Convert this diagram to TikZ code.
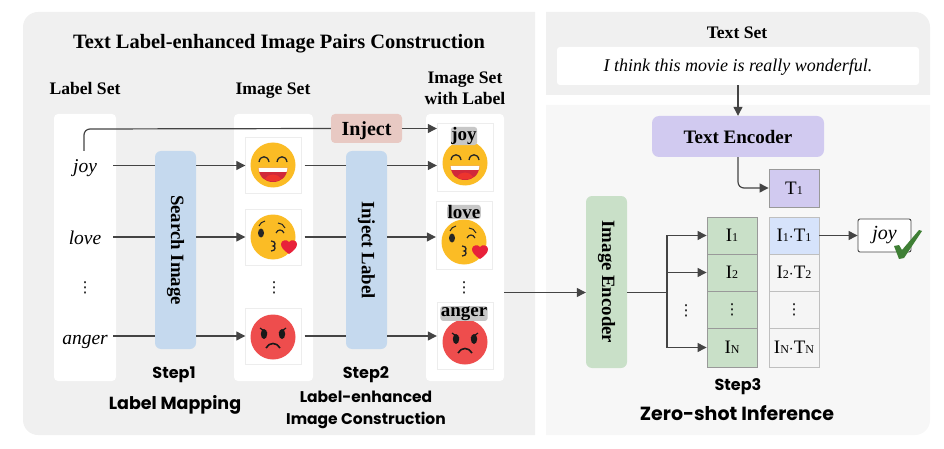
\documentclass[tikz,border=0pt]{standalone}
\usepackage{fontspec}
\setmainfont{Liberation Serif}
\newfontfamily\handfont{Poppins}
\newfontfamily\dotsfont{DejaVu Sans}
\usepackage{xcolor}
\usetikzlibrary{arrows.meta,positioning,calc}
\definecolor{panelgray}{HTML}{F0F0F0}
\definecolor{panellight}{HTML}{F7F7F7}
\definecolor{stepblue}{HTML}{C5D9EE}
\definecolor{injectred}{HTML}{E8C9C3}
\definecolor{encviolet}{HTML}{D1CAF0}
\definecolor{encgreen}{HTML}{C9E0C8}
\definecolor{cellblue}{HTML}{D6E3FB}
\definecolor{linegray}{HTML}{444444}
\definecolor{facegold}{HTML}{FBBC25}
\definecolor{facered}{HTML}{EE4D4D}
\definecolor{mouthred}{HTML}{D1293A}
\definecolor{heartred}{HTML}{E8213A}
\definecolor{checkgreen}{HTML}{3F7F35}
\newcommand{\cellsub}[2]{#1{\fontsize{12}{12}\selectfont #2}}
\tikzset{
  arr/.style={-{Triangle[length=9pt,width=9pt]}, line width=1.2pt, linegray},
  plain/.style={line width=1.2pt, linegray},
  head/.style={font=\bfseries\fontsize{17.6}{21}\selectfont, align=center, text depth=4pt},
  hand/.style={font=\handfont\bfseries\fontsize{#1}{#1}\selectfont, align=center},
  labeltxt/.style={font=\itshape\fontsize{19.5}{21}\selectfont, text height=13pt, text depth=0pt},
  dotsmark/.style={font=\dotsfont\fontsize{15}{17}\selectfont},
  column/.style={fill=white, rounded corners=4pt, minimum width=#1, minimum height=267pt, inner sep=0pt},
  stepbox/.style={fill=stepblue, rounded corners=6pt, minimum width=41pt, minimum height=198pt, inner sep=0pt, font=\bfseries\fontsize{18.8}{20}\selectfont},
  frame/.style={draw=black!7, fill=white, minimum width=56pt, minimum height=#1, inner sep=0pt},
  tag/.style={fill=black!22, rounded corners=3pt, inner sep=0.5pt, font=\bfseries\fontsize{19}{15}\selectfont},
  icell/.style={draw=black!40, fill=encgreen, line width=0.9pt, minimum width=50pt, minimum height=#1, inner sep=0pt, font=\fontsize{19}{21}\selectfont},
  tcell/.style={draw=black!25, fill=black!4, line width=0.9pt, minimum width=50pt, minimum height=#1, inner sep=0pt, font=\fontsize{19}{21}\selectfont},
  joyface/.pic={
    \fill[facegold] (0,0) circle (22.5pt);
    \draw[line width=1.3pt, black!85] (-14,-3) .. controls (-13,-10) and (-5,-10) .. (-4,-3);
    \draw[line width=1.3pt, black!85] (4,-3) .. controls (5,-10) and (13,-10) .. (14,-3);
    \fill[mouthred] (-14.5,3) .. controls (-14,12) and (-8,17) .. (0,17) .. controls (8,17) and (14,12) .. (14.5,3) -- cycle;
    \fill[heartred!80!orange] (-8,14) .. controls (-5,8) and (5,8) .. (8,14) .. controls (5,17) and (-5,17) .. (-8,14) -- cycle;
    \fill[white] (-14.5,3) -- (14.5,3) .. controls (14.3,5) and (14,6) .. (13.5,7) -- (-13.5,7) .. controls (-14,6) and (-14.3,5) .. (-14.5,3) -- cycle;
  },
  kissface/.pic={
    \fill[facegold] (0,0) circle (22.5pt);
    \fill[black!85] (-12,-4) ellipse (3pt and 4.5pt);
    \draw[line width=1pt, black!85] (-14,-11) .. controls (-13,-14) and (-11,-15) .. (-8,-16);
    \draw[line width=1.2pt, black!85] (3,-4) .. controls (5,-8) and (9,-8) .. (11,-4);
    \draw[line width=1pt, black!85] (5,-14) .. controls (8,-14) and (11,-12) .. (12,-9);
    \draw[line width=1.3pt, black!85] (-2,4) .. controls (3,4) and (3,9) .. (0,9) .. controls (3,9) and (3,14) .. (-2,14);
    \fill[heartred] (16,17) .. controls (10,13) and (8,10) .. (8,7) .. controls (8,3) and (14,2) .. (16,5) .. controls (18,2) and (24,3) .. (24,7) .. controls (24,10) and (22,13) .. (16,17) -- cycle;
  },
  angerface/.pic={
    \fill[facered] (0,0) circle (22.5pt);
    \fill[black!90] (-9,-3) ellipse (3.2pt and 5pt);
    \fill[black!90] (9,-3) ellipse (3.2pt and 5pt);
    \draw[line width=1.2pt, black!90] (-13,-9) -- (-6,-4);
    \draw[line width=1.2pt, black!90] (13,-9) -- (6,-4);
    \draw[line width=1.6pt, black!90] (-7,11) .. controls (-4,5) and (4,5) .. (7,11);
  }
}
\begin{document}
\begin{tikzpicture}[x = 1pt, y = -1pt]
\useasboundingbox (0,0) rectangle (944,449);
% panels
\fill[panelgray] (535,12) [rounded corners=15pt] -- (23,12) -- (23,435) [sharp corners] -- (535,435) -- cycle;
\fill[panelgray] (546,12) [rounded corners=15pt] -- (930,12) [sharp corners] -- (930,95) -- (546,95) -- cycle;
\fill[panellight] (546,105) -- (930,105) [rounded corners=15pt] -- (930,435) [sharp corners] -- (546,435) -- cycle;
\node[font=\bfseries\fontsize{20.4}{22}\selectfont] (maintitle) at (279,44) {Text Label-enhanced Image Pairs Construction};
\node[head] (labelhead) at (85,90.5) {Label Set};
\node[head] (imagehead) at (273,90.5) {Image Set};
\node[head] (taggedhead) at (465,90) {Image Set\\with Label};
% columns
\node[column=62pt] (labelcol) at (85,247.5) {};
\node[column=79pt] (imagecol) at (273.5,247.5) {};
\node[column=78pt] (taggedcol) at (465,247.5) {};
\node[labeltxt] (joy) at (85,166) {joy};
\node[labeltxt] (love) at (85,238) {love};
\node[labeltxt] (anger) at (85,338) {anger};
\node[dotsmark] (labeldots) at (85,288) {⋮};
\node[stepbox] (search) at (175.5,250) {\rotatebox{-90}{Search Image}};
\node[stepbox] (injectlabel) at (366.5,250) {\rotatebox{-90}{Inject Label}};
\node[fill=injectred, rounded corners=4pt, minimum width=71pt, minimum height=29pt, inner sep=0pt, text height=13.5pt, text depth=0pt, font=\bfseries\fontsize{20}{22}\selectfont] (inject) at (366.5,128.5) {Inject};
% source images
\node[frame=56pt] (imgjoy) at (273.5,165.5) {};
\node[frame=56pt] (imglove) at (273.5,237) {};
\node[frame=56pt] (imganger) at (273.5,336) {};
\pic at (273,165) {joyface};
\pic at (273,237) {kissface};
\pic at (273,337) {angerface};
\node[dotsmark] (imagedots) at (274,288) {⋮};
% images with label
\node[frame=68pt] (tagjoy) at (465,157) {};
\node[frame=68pt] (taglove) at (464,235) {};
\node[frame=67pt] (taganger) at (465,335.5) {};
\pic at (465,163) {joyface};
\pic at (464,242) {kissface};
\pic at (465,342) {angerface};
\node[tag] (wordjoy) at (464,136) {joy};
\node[tag] (wordlove) at (464,212) {love};
\node[tag] (wordanger) at (464,313.5) {anger};
\node[dotsmark] (taggeddots) at (464,288) {⋮};
% left connectors
\coordinate (joytop) at (84,151);
\coordinate (joyup) at (84,129);
\draw[plain, rounded corners=6pt] (joytop) -- (joyup) -- (inject.west);
\draw[arr] (inject.east) -- (tagjoy.west |- inject.east);
\draw[plain] ([xshift=-3pt]labelcol.east |- imgjoy.west) -- (search.west |- imgjoy.west);
\draw[plain] ([xshift=-3pt]labelcol.east |- imglove.west) -- (search.west |- imglove.west);
\draw[plain] ([xshift=-3pt]labelcol.east |- imganger.west) -- (search.west |- imganger.west);
\draw[arr] (search.east |- imgjoy.west) -- (imgjoy.west);
\draw[arr] (search.east |- imglove.west) -- (imglove.west);
\draw[arr] (search.east |- imganger.west) -- (imganger.west);
\draw[plain] ([xshift=3pt]imgjoy.east) -- (imgjoy.east -| injectlabel.west);
\draw[plain] ([xshift=3pt]imglove.east) -- (imglove.east -| injectlabel.west);
\draw[plain] ([xshift=3pt]imganger.east) -- (imganger.east -| injectlabel.west);
\draw[arr] (injectlabel.east |- imgjoy.east) -- (tagjoy.west |- imgjoy.east);
\draw[arr] (injectlabel.east |- imglove.east) -- (taglove.west |- imglove.east);
\draw[arr] (injectlabel.east |- imganger.east) -- (taganger.west |- imganger.east);
\node[hand=16] (stepone) at (174,375) {Step1};
\node[hand=17.5] (mapping) at (175,405) {Label Mapping};
\node[hand=16] (steptwo) at (366,375) {Step2};
\node[hand=15.5, text depth=0pt] (construction) at (366,408) {Label-enhanced\\[6pt]Image Construction};
% right side
\node[head] (textset) at (737,35) {Text Set};
\node[fill=white, rounded corners=3pt, minimum width=362pt, minimum height=38pt, inner sep=0pt, text height=15pt, text depth=4pt, font=\itshape\fontsize{18}{20}\selectfont] (sentence) at (738,66) {I think this movie is really wonderful.};
\node[fill=encviolet, rounded corners=7pt, minimum width=172pt, minimum height=41pt, inner sep=0pt, text height=15pt, text depth=0pt, font=\bfseries\fontsize{19}{21}\selectfont] (textenc) at (738,136.5) {Text Encoder};
\node[draw=black!40, fill=encviolet, line width=0.9pt, minimum width=50pt, minimum height=38pt, inner sep=0pt, font=\fontsize{19}{21}\selectfont] (tone) at (794,188) {\cellsub{T}{1}};
\node[fill=encgreen, rounded corners=6pt, minimum width=41pt, minimum height=172pt, inner sep=0pt, font=\bfseries\fontsize{18.8}{20}\selectfont] (imgenc) at (606.5,282) {\rotatebox{-90}{Image Encoder}};
\node[icell=37pt] (ione) at (732,235.5) {\cellsub{I}{1}};
\node[icell=37pt] (itwo) at (732,272.5) {\cellsub{I}{2}};
\node[icell=37pt, dotsmark] (idots) at (732,309.5) {⋮};
\node[icell=39pt] (inn) at (732,347.5) {\cellsub{I}{N}};
\node[tcell=37pt, fill=cellblue] (sone) at (794,235.5) {\cellsub{I}{1}$\cdot$\cellsub{T}{1}};
\node[tcell=37pt] (stwo) at (794,272.5) {\cellsub{I}{2}$\cdot$\cellsub{T}{2}};
\node[tcell=37pt, dotsmark] (sdots) at (794,309.5) {⋮};
\node[tcell=39pt] (snn) at (794,347.5) {\cellsub{I}{N}$\cdot$\cellsub{T}{N}};
\node[dotsmark] (branchdots) at (686,311) {⋮};
\node[draw=linegray, fill=white, rounded corners=2pt, line width=0.9pt, minimum width=53pt, minimum height=33pt, inner sep=0pt, font=\itshape\fontsize{20}{22}\selectfont] (answer) at (884.5,235.5) {joy};
\fill[checkgreen] (894,246) -- (899,245) -- (902,250) -- (919,230) -- (922,231) -- (904,258) -- (899,259) -- cycle;
\coordinate (branch) at (667,292.5);
\draw[arr] (taggedcol.east |- branch) -- (imgenc.west |- branch);
\draw[arr] (sentence.south) -- (textenc.north);
\draw[arr, rounded corners=6pt] (textenc.south) |- (tone.west);
\draw[plain, line width=1.6pt] (imgenc.east |- branch) -- (branch);
\draw[arr] (branch) |- (ione.west);
\draw[arr] (branch) |- (itwo.west);
\draw[arr] (branch) |- (inn.west);
\draw[arr] (sone.east) -- (answer.west);
\node[hand=16] (stepthree) at (738,387) {Step3};
\node[hand=19] (zeroshot) at (737,413) {Zero-shot Inference};
\end{tikzpicture}
\end{document}
